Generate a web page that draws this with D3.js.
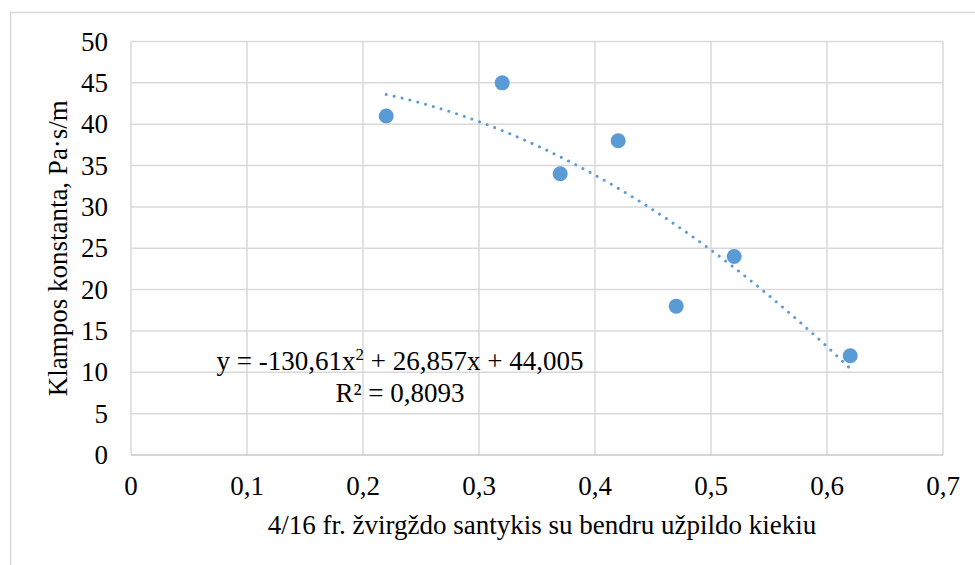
<!DOCTYPE html>
<html>
<head>
<meta charset="utf-8">
<script src="https://cdn.jsdelivr.net/npm/d3@7"></script>
<style>
  html, body { margin: 0; padding: 0; background: #fff; }
  svg { display: block; }
  svg text { font-family: 'Liberation Serif', 'DejaVu Serif', serif; font-size: 27px; fill: #000; }
</style>
</head>
<body>
<div id="chart"></div>
<script>
// data
const ratio = [0.22, 0.32, 0.37, 0.42, 0.47, 0.52, 0.62];
const konstanta = [41, 45, 34, 38, 18, 24, 12];
const xTicks = [0, 0.1, 0.2, 0.3, 0.4, 0.5, 0.6, 0.7];
const yTicks = [0, 5, 10, 15, 20, 25, 30, 35, 40, 45, 50];
// polynomial trendline as printed on the chart: c2, c1, c0
const trendCoef = [-130.61, 26.857, 44.005];
const trendRange = [0.22, 0.62];
const rSquared = '0,8093';

const width = 975, height = 565;
const margin = { top: 41.5, right: 32, bottom: 110, left: 131 };

const svg = d3.select('#chart').append('svg')
  .attr('width', width).attr('height', height);

// outer chart frame (only left and top edges visible)
svg.append('rect')
  .attr('x', 10.5).attr('y', 12.5)
  .attr('width', 1000).attr('height', 600)
  .attr('fill', 'none')
  .attr('stroke', '#d9d9d9')
  .attr('stroke-width', 1.5);

const x = d3.scaleLinear().domain([0, 0.7]).range([margin.left, width - margin.right]);
const y = d3.scaleLinear().domain([0, 50]).range([height - margin.bottom, margin.top]);

const comma = d => String(d).replace('.', ',');

// grid
const grid = svg.append('g').attr('class', 'grid');
grid.selectAll('line.v')
  .data(xTicks)
  .join('line')
  .attr('class', 'v')
  .attr('x1', d => x(d)).attr('x2', d => x(d))
  .attr('y1', y(50)).attr('y2', y(0))
  .attr('stroke', '#d9d9d9').attr('stroke-width', 1.5);
grid.selectAll('line.h')
  .data(yTicks)
  .join('line')
  .attr('class', 'h')
  .attr('x1', x(0)).attr('x2', x(0.7))
  .attr('y1', d => y(d)).attr('y2', d => y(d))
  .attr('stroke', d => d === 0 ? '#c8c8c8' : '#d9d9d9')
  .attr('stroke-width', 1.5);

// tick labels
svg.append('g')
  .selectAll('text')
  .data(yTicks)
  .join('text')
  .attr('x', 108)
  .attr('y', d => y(d))
  .attr('dy', '0.34em')
  .attr('text-anchor', 'end')
  .text(d => d);

svg.append('g')
  .selectAll('text')
  .data(xTicks)
  .join('text')
  .attr('x', d => x(d))
  .attr('y', 495)
  .attr('text-anchor', 'middle')
  .text(comma);

// axis titles
svg.append('text')
  .attr('transform', `translate(67,${(y(0) + y(50)) / 2}) rotate(-90)`)
  .attr('text-anchor', 'middle')
  .text('Klampos konstanta, Pa·s/m');

svg.append('text')
  .attr('x', 542)
  .attr('y', 534)
  .attr('text-anchor', 'middle')
  .text('4/16 fr. žvirgždo santykis su bendru užpildo kiekiu');

// trendline
const poly = v => trendCoef[0] * v * v + trendCoef[1] * v + trendCoef[2];
const trendX = d3.range(trendRange[0], trendRange[1] + 1e-9, 0.005);
const line = d3.line().x(d => x(d)).y(d => y(poly(d)));
svg.append('path')
  .datum(trendX)
  .attr('fill', 'none')
  .attr('stroke', '#5b9bd5')
  .attr('stroke-width', 3)
  .attr('stroke-linecap', 'round')
  .attr('stroke-dasharray', '0.01 8.1')
  .attr('d', line);

// points
svg.append('g')
  .selectAll('circle')
  .data(ratio.map((r, i) => ({ r, k: konstanta[i] })))
  .join('circle')
  .attr('cx', d => x(d.r))
  .attr('cy', d => y(d.k))
  .attr('r', 7.5)
  .attr('fill', '#5b9bd5');

// equation label
const eq = svg.append('text')
  .attr('x', 400)
  .attr('y', 369.5)
  .attr('text-anchor', 'middle');
eq.append('tspan').text('y = -130,61x');
eq.append('tspan').style('font-size', '17px').attr('dy', -10).text('2');
eq.append('tspan').attr('dy', 10).text(' + 26,857x + 44,005');

svg.append('text')
  .attr('x', 400)
  .attr('y', 401.5)
  .attr('text-anchor', 'middle')
  .text(`R² = ${rSquared}`);
</script>
</body>
</html>
